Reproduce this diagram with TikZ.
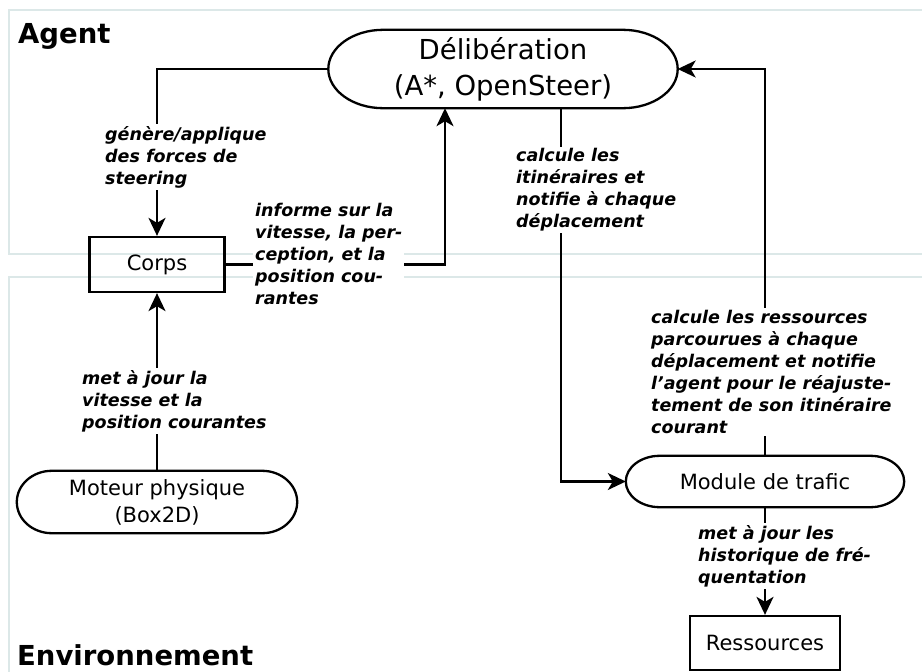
\documentclass[tikz,border=0pt]{standalone}
\usepackage{fontspec}
\setmainfont{DejaVu Sans}
\definecolor{zonegris}{HTML}{DCE8E8}
\usetikzlibrary{arrows.meta, positioning, calc}

\begin{document}
\begin{tikzpicture}[x=1pt, y=-1pt,
        zone/.style={draw=zonegris, line width=1.5pt},
        titre/.style={anchor=base west, inner sep=0pt,
                      font=\fontsize{27.5}{32}\selectfont\bfseries},
        box/.style={rectangle, draw, line width=2.3pt, inner sep=0pt,
                    font=\fontsize{21}{27}\selectfont},
        term/.style={rectangle, inner sep=0pt, align=center,
                     font=\fontsize{21}{27}\selectfont},
        lbl/.style={anchor=west, fill=white, inner sep=2pt, align=left,
                    font=\fontsize{17.5}{22}\selectfont\bfseries\itshape},
        arr/.style={-{Stealth[length=18pt, width=17pt, inset=5pt]}, line width=2.3pt}
      ]
      \useasboundingbox (0,0) rectangle (922,672);
      % zones
      \draw[zone] (9,10) rectangle (940,254);
      \draw[zone] (9,277) rectangle (940,690);
      \node[titre] (agent) at (18,43) {Agent};
      \node[titre] (env) at (17,665) {Environnement};

      % noeuds
      \node[term, minimum width=349pt, minimum height=78pt,
            font=\fontsize{27.5}{36}\selectfont] (delib) at (503,69)
            {Délibération\\(A*, OpenSteer)};
      \node[box, minimum width=135pt, minimum height=55pt] (corps) at (157,264.5) {Corps};
      \node[term, minimum width=280pt, minimum height=62pt] (moteur) at (157,502)
            {Moteur physique\\(Box2D)};
      \node[term, minimum width=278pt, minimum height=51pt] (trafic) at (765,481.5)
            {Module de trafic};
      \node[box, minimum width=150pt, minimum height=54pt] (res) at (765,643) {Ressources};

      % contours aux bouts elliptiques
      \foreach \nd/\r in {delib/55, moteur/35, trafic/34}
        \draw[line width=2.3pt] let \p1=(\nd.north west), \p2=(\nd.south east),
              \n1={(\y1-\y2)/2} in
          (\x1+\r pt,\y1) -- (\x2-\r pt,\y1)
          arc[start angle=90, end angle=-90, x radius=\r pt, y radius=\n1]
          -- (\x1+\r pt,\y2)
          arc[start angle=270, end angle=90, x radius=\r pt, y radius=\n1] -- cycle;

      % liens
      \draw[arr] (delib.west) -| (corps.north);
      \draw[arr] (corps.east) -| ([xshift=-58pt]delib.south);
      \draw[arr] ([xshift=58pt]delib.south) |- (trafic.west);
      \draw[arr] (trafic.north) |- (delib.east);
      \draw[arr] (trafic.south) -- (res.north);
      \draw[arr] (moteur.north) -- (corps.south);

      % etiquettes
      \node[lbl] (lforces) at (103,157) {génère/applique\\des forces de\\steering};
      \node[lbl] (linforme) at (253,254)
            {informe sur la\\vitesse, la per-\\ception, et la\\position cou-\\rantes};
      \node[lbl] (litin) at (514,190)
            {calcule les\\itinéraires et\\notifie à chaque\\déplacement};
      \node[lbl] (lres) at (649,372)
            {calcule les ressources\\parcourues à chaque\\déplacement et notifie\\l'agent pour le réajuste-\\tement de son itinéraire\\courant};
      \node[lbl] (lhisto) at (696,556) {met à jour les\\historique de fré-\\quentation};
      \node[lbl] (lvitesse) at (80,401) {met à jour la\\vitesse et la\\position courantes};
    \end{tikzpicture}
\end{document}
